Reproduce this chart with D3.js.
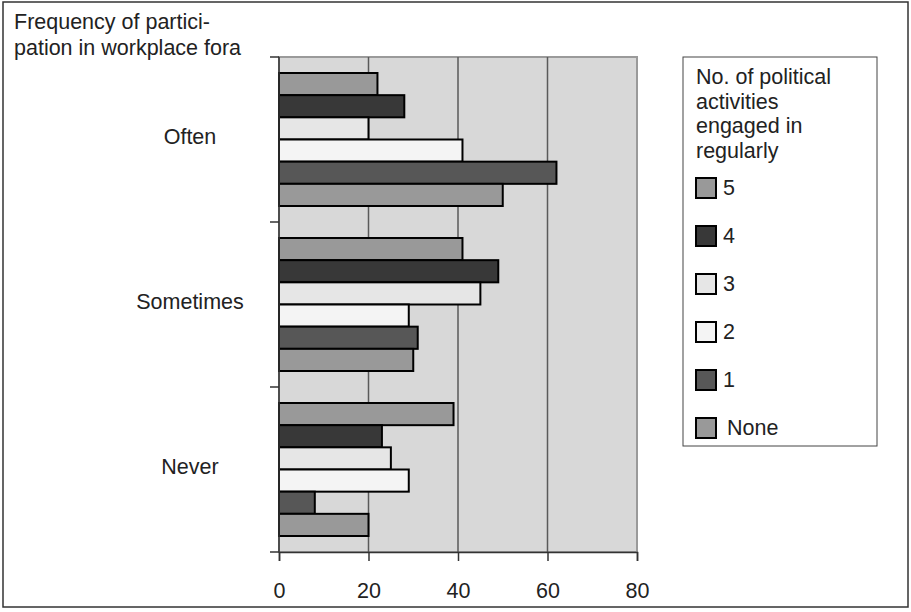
<!DOCTYPE html>
<html>
<head>
<meta charset="utf-8">
<script src="https://cdn.jsdelivr.net/npm/d3@7/dist/d3.min.js"></script>
<style>
  html, body { margin: 0; padding: 0; background: #fff; }
  svg { display: block; font-family: "Liberation Sans", Arial, sans-serif; }
</style>
</head>
<body>
<svg id="chart" width="911" height="612"></svg>
<script>
// Frequency of participation, by number of political activities
const categories = ["Often", "Sometimes", "Never"];
const seriesNames = ["5", "4", "3", "2", "1", "None"];
const seriesColors = ["#999999", "#383838", "#e6e6e6", "#f4f4f4", "#575757", "#999999"];
const values5 = [22, 41, 39];
const values4 = [28, 49, 23];
const values3 = [20, 45, 25];
const values2 = [41, 29, 29];
const values1 = [62, 31, 8];
const valuesNone = [50, 30, 20];
const xTicks = [0, 20, 40, 60, 80];
const titleLines = ["Frequency of partici-", "pation in workplace fora"];
const legendTitle = ["No. of political", "activities", "engaged in", "regularly"];

const seriesValues = [values5, values4, values3, values2, values1, valuesNone];
const FONT = 21.5;

const svg = d3.select("#chart");

// outer frame
svg.append("rect")
  .attr("x", 3).attr("y", 2).attr("width", 905).attr("height", 605)
  .attr("fill", "#fff").attr("stroke", "#333").attr("stroke-width", 1.5);

const plot = { left: 279, right: 637, top: 57, bottom: 552 };

const x = d3.scaleLinear().domain([0, 80]).range([plot.left, plot.right]);
const y = d3.scaleBand().domain(categories).range([plot.top, plot.bottom]);
const inner = d3.scaleBand().domain(seriesNames)
  .range([16, y.bandwidth() - 16]);

// plot background
svg.append("rect")
  .attr("x", plot.left).attr("y", plot.top)
  .attr("width", plot.right - plot.left).attr("height", plot.bottom - plot.top)
  .attr("fill", "#d8d8d8").attr("stroke", "#9a9a9a").attr("stroke-width", 2);

// vertical gridlines
svg.append("g").selectAll("line")
  .data(xTicks.filter(t => t > 0 && t < 80))
  .join("line")
  .attr("x1", d => x(d)).attr("x2", d => x(d))
  .attr("y1", plot.top).attr("y2", plot.bottom)
  .attr("stroke", "#5a5a5a").attr("stroke-width", 1.5);

// bars
const rows = [];
categories.forEach((c, ci) => {
  seriesNames.forEach((s, si) => {
    rows.push({ cat: c, series: s, value: seriesValues[si][ci], color: seriesColors[si] });
  });
});

svg.append("g").selectAll("rect")
  .data(rows)
  .join("rect")
  .attr("x", x(0))
  .attr("y", d => y(d.cat) + inner(d.series))
  .attr("width", d => x(d.value) - x(0))
  .attr("height", inner.bandwidth())
  .attr("fill", d => d.color)
  .attr("stroke", "#000").attr("stroke-width", 2);

// x axis
const xAxis = svg.append("g")
  .attr("transform", `translate(0,${plot.bottom})`)
  .call(d3.axisBottom(x).tickValues(xTicks).tickSize(9).tickPadding(22));
xAxis.select(".domain").attr("stroke", "#333").attr("stroke-width", 1.5);
xAxis.selectAll(".tick line").attr("stroke", "#333").attr("stroke-width", 1.5);
xAxis.selectAll("text").attr("font-size", FONT).attr("fill", "#222")
  .attr("font-family", "Liberation Sans, Arial, sans-serif");

// y axis: tick marks at category boundaries, labels at band centers
const yAxisG = svg.append("g");
yAxisG.append("line")
  .attr("x1", plot.left).attr("x2", plot.left)
  .attr("y1", plot.top).attr("y2", plot.bottom)
  .attr("stroke", "#333").attr("stroke-width", 1.5);
const boundaries = categories.map(c => y(c)).concat([plot.bottom]);
yAxisG.selectAll("line.tick")
  .data(boundaries)
  .join("line").attr("class", "tick")
  .attr("x1", plot.left - 9).attr("x2", plot.left)
  .attr("y1", d => d).attr("y2", d => d)
  .attr("stroke", "#333").attr("stroke-width", 1.5);
yAxisG.selectAll("text")
  .data(categories)
  .join("text")
  .attr("x", 190)
  .attr("y", d => y(d) + y.bandwidth() / 2 + 4)
  .attr("text-anchor", "middle")
  .attr("font-size", FONT).attr("fill", "#222")
  .text(d => d);

// title
svg.append("g").selectAll("text")
  .data(titleLines)
  .join("text")
  .attr("x", 14)
  .attr("y", (d, i) => 29 + i * 26)
  .attr("font-size", FONT).attr("fill", "#222")
  .text(d => d);

// legend
const legend = svg.append("g");
legend.append("rect")
  .attr("x", 683).attr("y", 57).attr("width", 194).attr("height", 389)
  .attr("fill", "#fff").attr("stroke", "#444").attr("stroke-width", 1);
legend.selectAll("text.title")
  .data(legendTitle)
  .join("text").attr("class", "title")
  .attr("x", 696)
  .attr("y", (d, i) => 84 + i * 24.5)
  .attr("font-size", FONT).attr("fill", "#222")
  .text(d => d);
const items = legend.selectAll("g.item")
  .data(seriesNames)
  .join("g").attr("class", "item")
  .attr("transform", (d, i) => `translate(696,${188 + i * 48})`);
items.append("rect")
  .attr("x", 0).attr("y", -10).attr("width", 20).attr("height", 20)
  .attr("fill", (d, i) => seriesColors[i])
  .attr("stroke", "#000").attr("stroke-width", 2);
items.append("text")
  .attr("x", d => d === "None" ? 31 : 27)
  .attr("y", 7)
  .attr("font-size", FONT).attr("fill", "#222")
  .text(d => d);
</script>
</body>
</html>
